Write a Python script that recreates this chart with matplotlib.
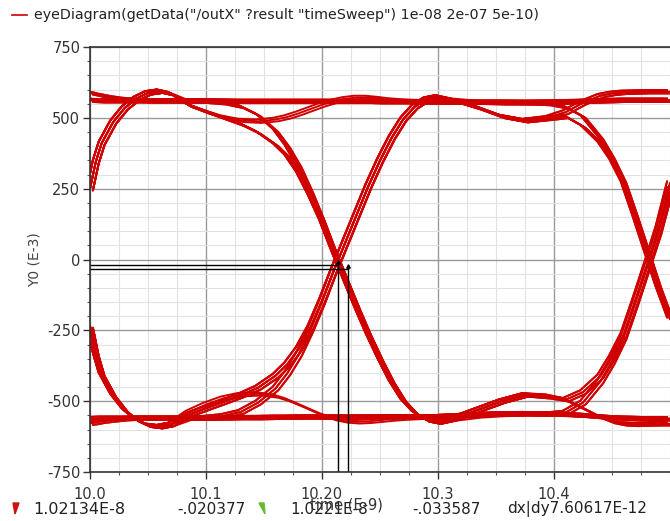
import matplotlib
matplotlib.use("Agg")
import matplotlib.pyplot as plt
import matplotlib.patches as patches
from matplotlib.lines import Line2D
from matplotlib.ticker import MultipleLocator, FixedLocator
import numpy as np

# time grid of the eye window (ns), split in three parts
t_start = [10.000, 10.005, 10.010, 10.020, 10.030, 10.040, 10.050, 10.060, 10.070]
t_mid = [10.085, 10.100, 10.115, 10.130, 10.145, 10.160, 10.170, 10.180, 10.190, 10.200,
         10.210, 10.220, 10.230, 10.240, 10.250, 10.260, 10.270, 10.280, 10.290]
t_end = [10.300, 10.315, 10.335, 10.355, 10.375, 10.395, 10.410, 10.425, 10.440, 10.450,
         10.460, 10.470, 10.480, 10.490, 10.500]

# start of window (mV)
start_rise = [250, 345, 410, 485, 535, 568, 588, 594, 585]
start_fall = [-235, -335, -405, -480, -532, -566, -585, -590, -582]
start_high_top = [588, 584, 579, 571, 565, 562, 560, 560, 560]
start_high = [562, 561, 560, 560, 560, 560, 560, 560, 560]
start_low_bot = [-578, -575, -571, -566, -562, -560, -560, -560, -560]
start_low = [-562, -561, -560, -560, -560, -560, -560, -560, -560]

# middle of window, crossing near 10.215
mid_ring_fall = [545, 522, 500, 478, 448, 405, 365, 305, 225, 135,
                 30, -70, -170, -265, -352, -432, -497, -541, -566]
mid_flat_fall = [560, 558, 553, 540, 510, 455, 400, 330, 240, 140,
                 32, -68, -168, -263, -350, -430, -496, -540, -566]
mid_ring_rise = [-548, -525, -503, -480, -452, -410, -370, -315, -240, -145,
                 -40, 60, 160, 260, 350, 430, 495, 540, 566]
mid_flat_rise = [-560, -558, -552, -538, -505, -455, -402, -335, -248, -150,
                 -42, 58, 158, 258, 348, 428, 494, 539, 565]
mid_ring_high = [545, 522, 503, 491, 488, 494, 503, 516, 531, 546,
                 558, 567, 572, 572, 568, 563, 560, 558, 557]
mid_ring_low = [-540, -512, -490, -477, -474, -482, -495, -512, -530, -548,
                -562, -570, -573, -571, -567, -563, -560, -558, -556]
mid_flat_high = [560, 560, 559, 558, 558, 558, 558, 558, 558, 558,
                 558, 558, 558, 558, 557, 557, 557, 556, 556]
mid_flat_low = [-560, -560, -559, -558, -558, -557, -557, -556, -556, -556,
                -556, -556, -556, -556, -555, -555, -555, -555, -555]

# end of window, crossing near 10.481
end_ring_high = [574, 560, 535, 505, 490, 500, 520, 553, 578, 586, 590, 591, 592, 592, 592]
end_ring_fall = [574, 560, 535, 505, 490, 498, 505, 470, 410, 350, 270, 150, 25, -100, -211]
end_settle_high = [574, 562, 555, 552, 552, 553, 555, 558, 560, 561, 562, 562, 562, 562, 562]
end_flat_high = [556, 555, 555, 555, 555, 556, 557, 558, 560, 561, 562, 562, 562, 562, 562]
end_flat_fall = [556, 555, 555, 555, 554, 550, 538, 505, 430, 360, 275, 155, 30, -95, -205]
end_ring_low = [-574, -560, -530, -500, -478, -482, -495, -525, -556, -572, -580, -582, -581, -580, -580]
end_ring_rise = [-574, -560, -530, -500, -478, -485, -495, -468, -412, -345, -265, -145, -20, 110, 270]
end_settle_low = [-574, -562, -552, -547, -545, -545, -546, -550, -555, -558, -560, -561, -562, -562, -562]
end_flat_low = [-555, -552, -548, -545, -544, -545, -547, -550, -555, -558, -560, -561, -562, -562, -562]
end_flat_rise = [-555, -552, -548, -545, -544, -546, -540, -505, -430, -360, -275, -155, -30, 95, 250]

traces = [
    (start_high, mid_flat_high, end_flat_high),
    (start_high_top, mid_flat_high, end_flat_fall),
    (start_high, mid_flat_fall, end_ring_rise),
    (start_high_top, mid_flat_fall, end_ring_low),
    (start_rise, mid_ring_high, end_flat_high),
    (start_rise, mid_ring_fall, end_settle_low),
    (start_rise, mid_ring_fall, end_ring_rise),
    (start_rise, mid_flat_high, end_flat_fall),
    (start_rise, mid_ring_fall, end_ring_low),
    (start_low, mid_flat_low, end_flat_low),
    (start_low_bot, mid_flat_low, end_flat_rise),
    (start_low, mid_flat_rise, end_ring_fall),
    (start_low_bot, mid_flat_rise, end_ring_high),
    (start_fall, mid_ring_low, end_flat_low),
    (start_fall, mid_ring_rise, end_settle_high),
    (start_fall, mid_ring_rise, end_ring_high),
    (start_fall, mid_flat_low, end_flat_rise),
    (start_fall, mid_ring_rise, end_ring_fall),
]

# spread of the overlaid sweeps (band width seen in the picture)
copy_shift_ns = [-0.0025, 0.0, 0.0025]
copy_shift_mv = [6, 0, -6]

# cursors
cursor_x = [10.2134, 10.2221]
cursor_y = [-20.377, -33.587]

x_ticks = [10.0, 10.1, 10.2, 10.3, 10.4]
x_tick_labels = ["10.0", "10.1", "10.20", "10.3", "10.4"]
y_ticks = [-750, -500, -250, 0, 250, 500, 750]
y_tick_labels = ["-750", "-500", "-250", "0", "250", "500", "750"]

legend_text = 'eyeDiagram(getData("/outX" ?result "timeSweep") 1e-08 2e-07 5e-10)'

W, H = 670, 521
def fx(px):
    return px / W
def fy(py):
    return 1 - py / H

red = "#d10000"
fig = plt.figure(figsize=(6.7, 5.21), dpi=100)
ax = fig.add_axes([fx(90), fy(472), fx(670) - fx(90), fy(47) - fy(472)])

t_all = np.array(t_start + t_mid + t_end)
for s, m, e in traces:
    v = np.array(s + m + e, dtype=float)
    for dt, dv in zip(copy_shift_ns, copy_shift_mv):
        ax.plot(t_all + dt, v + dv, color=red, lw=1.4, solid_capstyle="round")

# cursor lines
ax.plot([10.0, cursor_x[0]], [cursor_y[0], cursor_y[0]], color="black", lw=1.0)
ax.plot([10.0, cursor_x[1]], [cursor_y[1], cursor_y[1]], color="black", lw=1.0)
ax.plot([cursor_x[0], cursor_x[0]], [-750, cursor_y[0]], color="black", lw=1.0)
ax.plot([cursor_x[1], cursor_x[1]], [-750, cursor_y[1]], color="black", lw=1.0)
ax.plot(cursor_x, [v + 12 for v in cursor_y], "^", color="black", ms=2.5)

ax.set_xlim(10.0, 10.5)
ax.set_ylim(-750, 750)
ax.xaxis.set_major_locator(FixedLocator(x_ticks))
ax.set_xticklabels(x_tick_labels)
ax.xaxis.set_minor_locator(MultipleLocator(0.025))
ax.yaxis.set_major_locator(FixedLocator(y_ticks))
ax.set_yticklabels(y_tick_labels)
ax.yaxis.set_minor_locator(MultipleLocator(50))

ax.grid(which="major", color="#9a9a9a", lw=1.0)
ax.grid(which="minor", color="#e2e2e2", lw=0.8)
ax.set_axisbelow(True)

ax.spines["right"].set_visible(False)
for sp in ["left", "top", "bottom"]:
    ax.spines[sp].set_color("#333333")
    ax.spines[sp].set_linewidth(1.2)
ax.tick_params(which="major", direction="out", length=5, width=1, color="#333333",
               labelsize=10.5, labelcolor="#333333", pad=2)
ax.tick_params(which="minor", direction="out", length=2.5, width=0.8, color="#555555")
ax.tick_params(axis="x", which="major", pad=6)
ax.tick_params(right=False, top=False)

fig.text(fx(35), fy(260), "Y0 (E-3)", rotation=90, ha="center", va="center",
         fontsize=10, color="#444444")

# legend line at the top
fig.add_artist(Line2D([fx(12), fx(27)], [fy(15), fy(15)], color=red, lw=1.2))
fig.text(fx(34), fy(15), legend_text, ha="left", va="center", fontsize=10.3, color="#222222")

# cursor readout row (the x label sits over it, as in the tool's window)
fig.add_artist(patches.Polygon([[fx(13), fy(503)], [fx(19), fy(503)], [fx(15), fy(514)]],
                               closed=True, color="#cc1111", transform=fig.transFigure))
fig.add_artist(patches.Polygon([[fx(259), fy(503)], [fx(264), fy(503)], [fx(265), fy(514)]],
                               closed=True, color="#66bb33", transform=fig.transFigure))
row_y = fy(509)
fig.text(fx(33), row_y, "1.02134E-8", ha="left", va="center", fontsize=11.5, color="#222222")
fig.text(fx(177), row_y, "-.020377", ha="left", va="center", fontsize=11, color="#222222")
fig.text(fx(290), row_y, "1.0221E-8", ha="left", va="center", fontsize=11, color="#222222")
fig.text(fx(412), row_y, "-.033587", ha="left", va="center", fontsize=11, color="#222222")
fig.text(fx(507), row_y, "dx|dy7.60617E-12", ha="left", va="center", fontsize=11, color="#222222")
fig.text(fx(346), fy(505), "time (E-9)", ha="center", va="center", fontsize=10.5, color="#333333")

fig.savefig("out.png", dpi=100)
